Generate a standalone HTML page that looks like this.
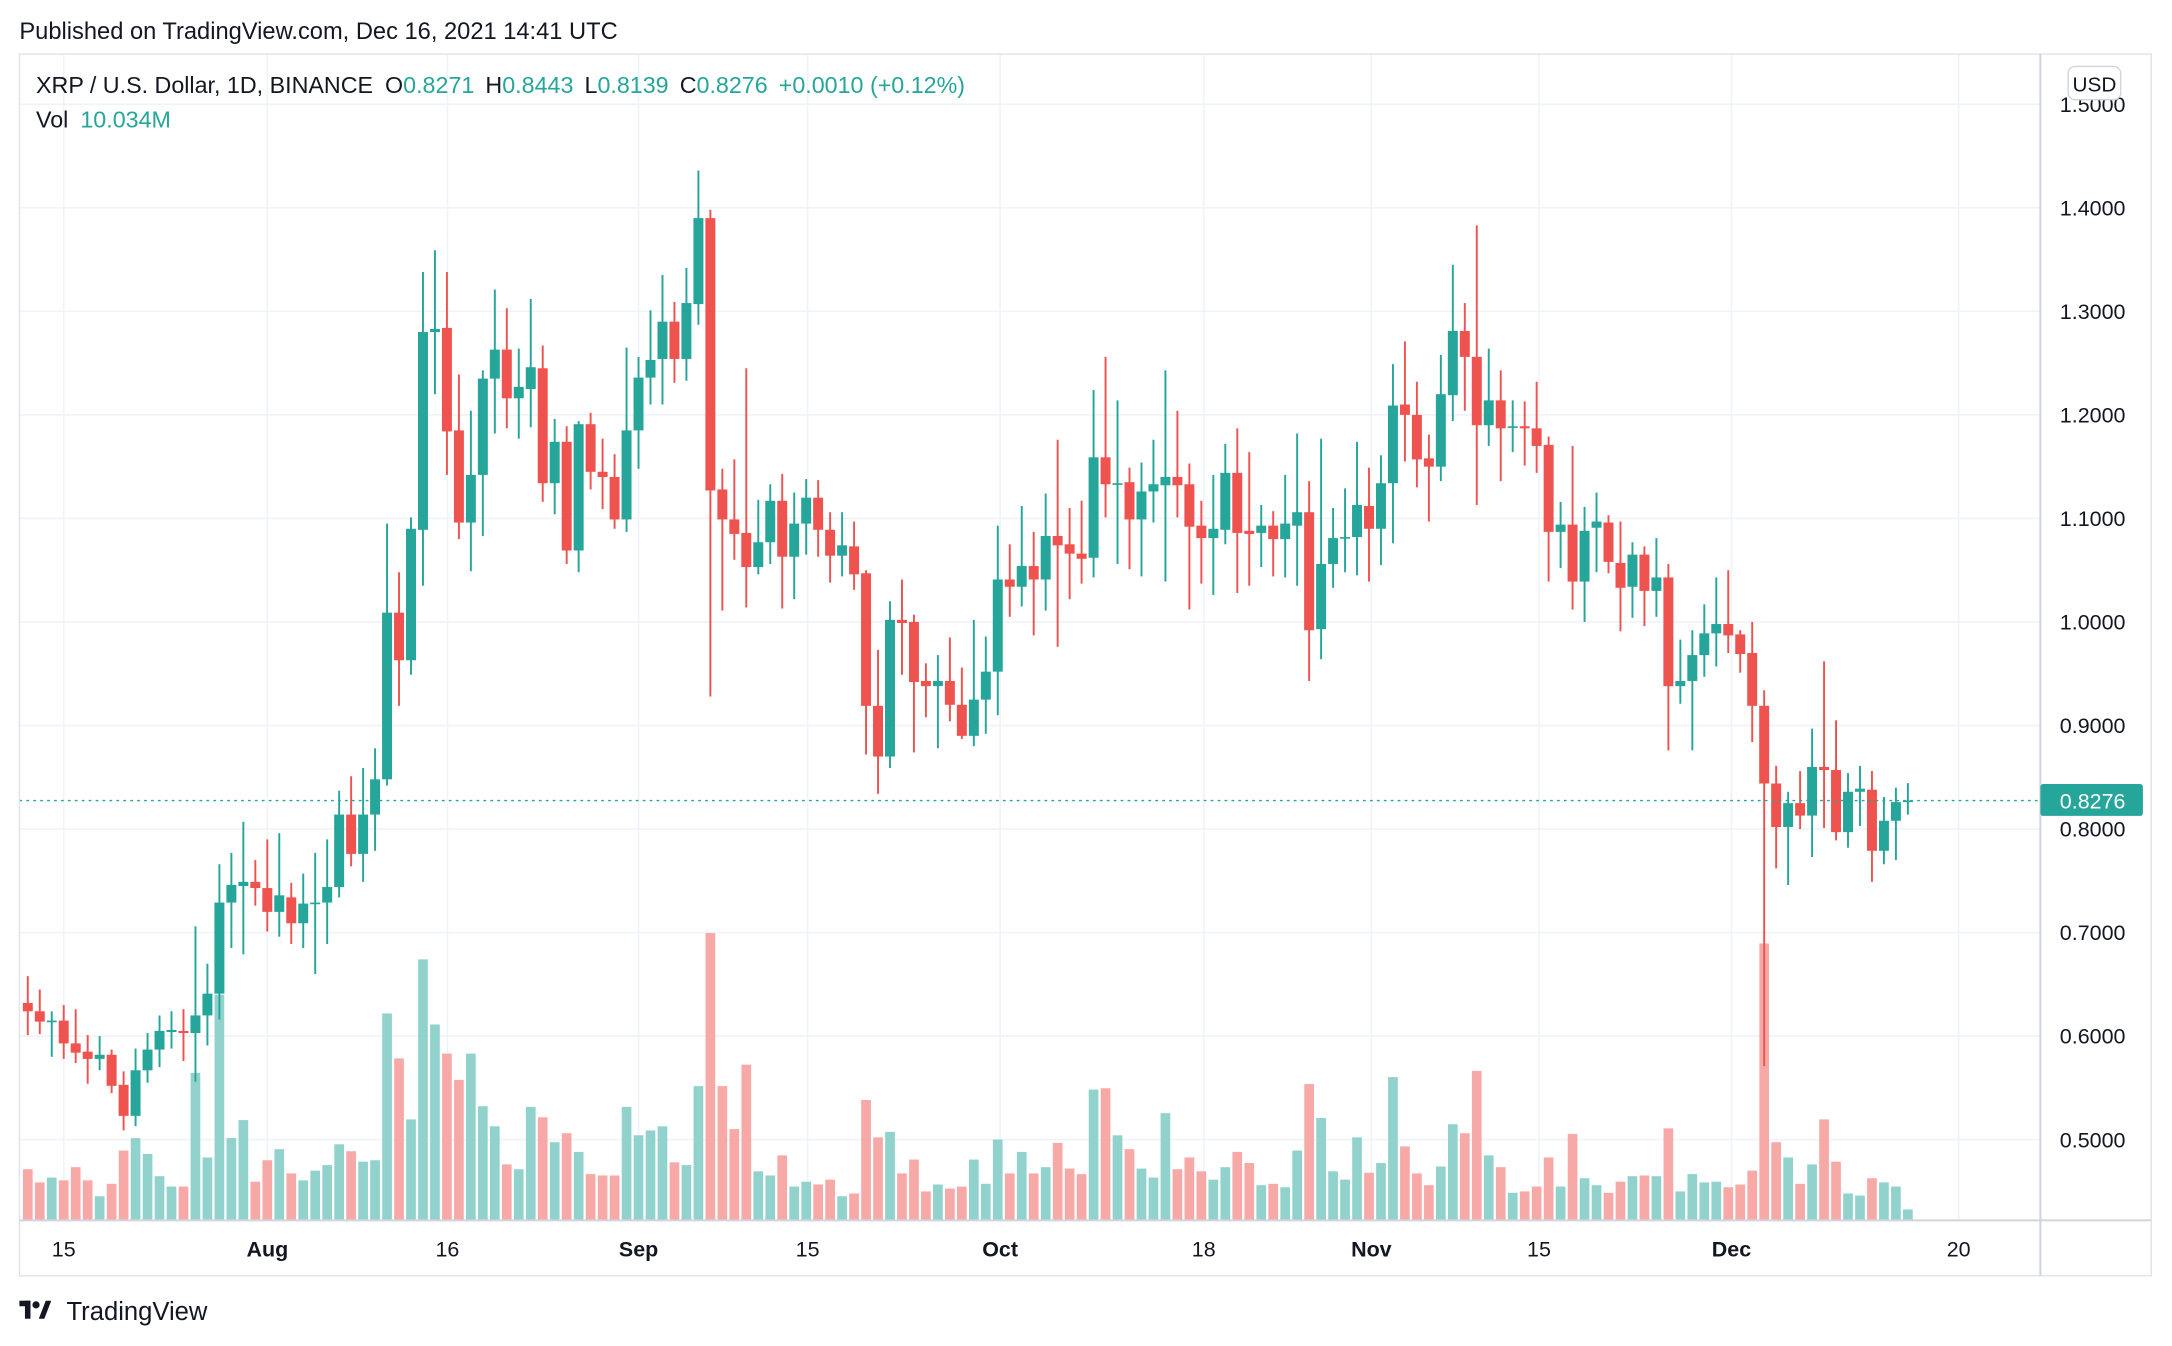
<!DOCTYPE html>
<html><head><meta charset="utf-8"><style>
html,body{margin:0;padding:0;background:#fff;}
svg{display:block;font-family:"Liberation Sans",sans-serif;}
</style></head><body>
<svg id="s" width="2172" height="1346" viewBox="0 0 1568 971.7" xmlns="http://www.w3.org/2000/svg">
<rect width="1568" height="972" fill="#fff"/>
<text x="14" y="28" font-size="17.1" fill="#131722">Published on TradingView.com, Dec 16, 2021 14:41 UTC</text>
<g id="grid"></g>
<g id="vol"></g>
<g id="cdl"></g>
<line x1="14" y1="577.9" x2="1473" y2="577.9" stroke="#26a69a" stroke-width="1" stroke-dasharray="2,3"/>
<rect x="14" y="39" width="1539" height="882" fill="none" stroke="#e0e3eb" stroke-width="1"/>
<line x1="1473" y1="39" x2="1473" y2="921" stroke="#d1d4dc" stroke-width="1.5"/>
<line x1="14" y1="881" x2="1553" y2="881" stroke="#d1d4dc" stroke-width="1.5"/>
<g id="ticks" font-size="15.5" fill="#131722"></g>
<rect x="1473" y="566" width="74" height="23" rx="2" fill="#26a69a"/>
<text x="1487" y="583.5" font-size="15.5" fill="#fff">0.8276</text>
<rect x="1493" y="48" width="38" height="24" rx="5" fill="#fff" stroke="#d1d4dc"/>
<text x="1512" y="66" font-size="15" fill="#131722" text-anchor="middle">USD</text>
<text x="26" y="67" font-size="16.8" fill="#131722">XRP / U.S. Dollar, 1D, BINANCE <tspan dx="4">O</tspan><tspan fill="#26a69a">0.8271</tspan><tspan dx="8">H</tspan><tspan fill="#26a69a">0.8443</tspan><tspan dx="8">L</tspan><tspan fill="#26a69a">0.8139</tspan><tspan dx="8">C</tspan><tspan fill="#26a69a">0.8276</tspan><tspan dx="8" fill="#26a69a">+0.0010 (+0.12%)</tspan></text>
<text x="26" y="92" font-size="16.8" fill="#131722">Vol <tspan dx="4" fill="#26a69a">10.034M</tspan></text>
<g transform="translate(14,938)" fill="#131722">
<rect x="0" y="1" width="8" height="4"/><rect x="4" y="1" width="4" height="13"/>
<circle cx="12" cy="4" r="2.6"/><polygon points="14,14 19,1 23,1 18,14"/>
</g>
<text x="48" y="953" font-size="18.5" fill="#131722">TradingView</text>
</svg>
<script>
var NS="http://www.w3.org/2000/svg";
function el(p,t,a){var e=document.createElementNS(NS,t);for(var k in a)e.setAttribute(k,a[k]);p.appendChild(e);return e;}
var Y=function(p){return 449-747.5*(p-1);};
var grid=document.getElementById('grid'),ticks=document.getElementById('ticks');
[1.5,1.4,1.3,1.2,1.1,1.0,0.9,0.8,0.7,0.6,0.5].forEach(function(p){
 var y=Y(p);el(grid,'line',{x1:14,x2:1473,y1:y,y2:y,stroke:'#f0f3fa','stroke-width':1.2});
 var t=el(ticks,'text',{x:1487,y:y+5.5});t.textContent=p.toFixed(4);
});
[[46,'15'],[193,'Aug'],[323,'16'],[461,'Sep'],[583,'15'],[722,'Oct'],[869,'18'],[990,'Nov'],[1111,'15'],[1250,'Dec'],[1414,'20']].forEach(function(a){
 el(grid,'line',{x1:a[0],x2:a[0],y1:39,y2:881,stroke:'#f0f3fa','stroke-width':1.2});
 var t=el(ticks,'text',{x:a[0],y:907,'text-anchor':'middle','font-weight':(isNaN(+a[1])?'bold':'normal')});t.textContent=a[1];
});
var D=[
[.632,.658,.601,.624],[.624,.645,.602,.614],[.614,.624,.580,.615],[.615,.630,.578,.593],[.593,.626,.574,.584],
[.585,.601,.554,.578],[.578,.600,.567,.582],[.582,.587,.545,.552],[.553,.566,.509,.523],[.523,.588,.513,.567],
[.567,.603,.555,.587],[.587,.620,.570,.605],[.604,.624,.588,.606],[.605,.626,.576,.603],[.603,.706,.556,.620],
[.620,.670,.591,.641],[.641,.766,.616,.729],[.729,.777,.685,.746],[.745,.807,.679,.749],[.749,.770,.726,.743],
[.743,.790,.701,.720],[.720,.796,.696,.736],[.734,.748,.689,.709],[.709,.757,.685,.728],[.728,.777,.660,.729],
[.729,.790,.689,.744],[.744,.837,.734,.814],[.814,.851,.764,.776],[.776,.859,.749,.814],[.814,.878,.779,.848],
[.848,1.095,.842,1.009],[1.009,1.048,.919,.963],[.963,1.101,.949,1.090],[1.089,1.338,1.035,1.280],[1.280,1.359,1.220,1.283],
[1.284,1.338,1.142,1.184],[1.185,1.239,1.080,1.096],[1.096,1.204,1.049,1.142],[1.142,1.243,1.083,1.235],[1.235,1.321,1.182,1.263],
[1.263,1.303,1.187,1.216],[1.216,1.264,1.177,1.227],[1.225,1.312,1.188,1.246],[1.245,1.267,1.116,1.134],[1.134,1.196,1.104,1.174],
[1.174,1.189,1.056,1.069],[1.069,1.194,1.048,1.191],[1.191,1.202,1.128,1.145],[1.145,1.177,1.109,1.140],[1.140,1.162,1.090,1.099],
[1.099,1.265,1.087,1.185],[1.185,1.256,1.148,1.236],[1.236,1.301,1.210,1.253],[1.254,1.335,1.210,1.290],[1.290,1.309,1.231,1.254],
[1.254,1.342,1.233,1.308],[1.307,1.436,1.287,1.390],[1.390,1.398,.928,1.127],[1.128,1.148,1.011,1.099],[1.099,1.157,1.060,1.085],
[1.086,1.245,1.014,1.053],[1.053,1.118,1.046,1.077],[1.077,1.133,1.056,1.117],[1.117,1.143,1.013,1.063],[1.063,1.125,1.022,1.095],
[1.095,1.138,1.065,1.120],[1.120,1.137,1.063,1.089],[1.089,1.106,1.038,1.064],[1.064,1.106,1.044,1.074],[1.073,1.097,1.031,1.046],
[1.047,1.050,.872,.919],[.919,.973,.834,.870],[.870,1.020,.859,1.002],[1.002,1.041,.949,.999],[1.000,1.007,.874,.942],
[.943,.960,.908,.938],[.938,.968,.878,.943],[.943,.985,.904,.920],[.920,.956,.887,.890],[.890,1.002,.880,.925],
[.925,.986,.892,.952],[.952,1.093,.910,1.041],[1.041,1.075,1.005,1.034],[1.034,1.112,1.015,1.054],[1.054,1.087,.987,1.041],
[1.041,1.124,1.011,1.083],[1.083,1.176,.976,1.074],[1.075,1.110,1.022,1.066],[1.066,1.117,1.037,1.061],[1.062,1.224,1.043,1.159],
[1.159,1.256,1.101,1.133],[1.133,1.214,1.056,1.134],[1.135,1.149,1.051,1.099],[1.099,1.154,1.044,1.126],[1.126,1.176,1.096,1.133],
[1.132,1.243,1.039,1.140],[1.140,1.204,1.101,1.132],[1.133,1.153,1.012,1.092],[1.093,1.117,1.037,1.081],[1.081,1.142,1.026,1.090],
[1.089,1.172,1.075,1.144],[1.144,1.187,1.028,1.086],[1.088,1.164,1.035,1.085],[1.086,1.113,1.053,1.093],[1.093,1.107,1.044,1.080],
[1.080,1.142,1.043,1.095],[1.093,1.182,1.035,1.106],[1.106,1.136,.943,.992],[.993,1.177,.964,1.056],[1.056,1.110,1.033,1.081],
[1.081,1.129,1.048,1.082],[1.082,1.174,1.045,1.113],[1.112,1.149,1.039,1.090],[1.090,1.161,1.055,1.134],[1.134,1.249,1.076,1.209],
[1.210,1.271,1.155,1.200],[1.200,1.232,1.130,1.157],[1.158,1.181,1.097,1.150],[1.150,1.258,1.136,1.220],[1.219,1.345,1.194,1.281],
[1.281,1.308,1.204,1.256],[1.256,1.383,1.113,1.190],[1.190,1.264,1.170,1.214],[1.214,1.243,1.136,1.187],[1.188,1.214,1.164,1.189],
[1.189,1.213,1.151,1.187],[1.187,1.232,1.144,1.170],[1.171,1.179,1.039,1.087],[1.087,1.116,1.052,1.094],[1.094,1.170,1.012,1.039],
[1.039,1.111,1.000,1.088],[1.091,1.125,1.048,1.097],[1.096,1.103,1.047,1.058],[1.057,1.097,.991,1.033],[1.034,1.077,1.004,1.065],
[1.065,1.073,.996,1.030],[1.030,1.081,1.005,1.043],[1.043,1.056,.876,.938],[.938,.983,.921,.943],[.943,.992,.876,.968],
[.968,1.017,.947,.989],[.989,1.043,.957,.998],[.998,1.050,.970,.987],[.988,.992,.951,.969],[.970,1.000,.884,.919],
[.919,.934,.571,.844],[.844,.861,.762,.802],[.802,.836,.746,.825],[.825,.856,.800,.813],[.813,.897,.773,.860],
[.860,.962,.801,.857],[.857,.905,.789,.797],[.797,.854,.782,.836],[.836,.861,.803,.839],[.838,.856,.749,.779],
[.779,.831,.766,.808],[.808,.840,.770,.826],[.8271,.8443,.8139,.8276]];
var V=[1472,1491,1484,1488,1469,1488,1511,1493,1445,1427,1450,1482,1497,1497,1333,1455,1220,1427,1401,1490,
1459,1443,1478,1488,1474,1466,1436,1446,1461,1459,1247,1312,1400,1169,1263,1305,1343,1305,1381,1410,
1465,1472,1382,1397,1433,1420,1447,1479,1481,1481,1382,1423,1416,1410,1462,1466,1352,1131,1352,1414,
1321,1475,1481,1452,1497,1490,1494,1487,1511,1507,1372,1426,1418,1478,1458,1504,1494,1500,1497,1458,
1493,1429,1478,1447,1478,1469,1434,1471,1479,1357,1355,1423,1443,1471,1484,1391,1472,1455,1475,1487,
1469,1447,1463,1495,1493,1498,1445,1349,1398,1475,1487,1426,1477,1463,1339,1439,1478,1495,1468,1407,
1420,1330,1452,1469,1506,1504,1497,1455,1497,1421,1485,1495,1506,1490,1482,1481,1482,1413,1504,1479,
1491,1490,1498,1494,1474,1146,1433,1455,1493,1465,1400,1461,1507,1510,1485,1491,1497,1530];
var vol=document.getElementById('vol'),cdl=document.getElementById('cdl');
D.forEach(function(d,i){
 var x=46+8.645*(i-3);var up=d[3]>=d[0];
 var c=up?'#26a69a':'#ef5350';
 var vt=108.1+0.5*V[i];
 el(vol,'rect',{x:x-3.5,y:vt,width:7,height:Math.max(0,881-vt),fill:up?'#92d2cc':'#f7a9a7'});
 el(cdl,'rect',{x:x-0.7,y:Y(d[1]),width:1.4,height:Y(d[2])-Y(d[1]),fill:c});
 var t=Y(Math.max(d[0],d[3])),b=Y(Math.min(d[0],d[3]));
 el(cdl,'rect',{x:x-3.6,y:t,width:7.2,height:Math.max(1.2,b-t),fill:c});
});
</script>
</body></html>
